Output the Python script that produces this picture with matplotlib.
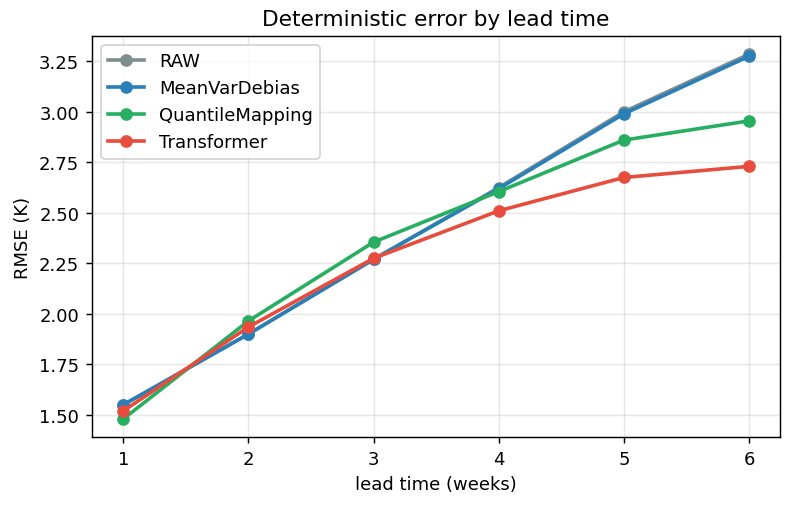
import matplotlib
matplotlib.use("Agg")
import matplotlib.pyplot as plt

lead_weeks = [1, 2, 3, 4, 5, 6]
rmse_raw = [1.55, 1.90, 2.27, 2.625, 3.00, 3.285]
rmse_meanvar = [1.55, 1.90, 2.27, 2.62, 2.99, 3.275]
rmse_qm = [1.48, 1.965, 2.355, 2.605, 2.86, 2.955]
rmse_transformer = [1.52, 1.935, 2.275, 2.51, 2.675, 2.73]

series = [
    ("RAW", rmse_raw, "#7f8c8d"),
    ("MeanVarDebias", rmse_meanvar, "#2980b9"),
    ("QuantileMapping", rmse_qm, "#27ae60"),
    ("Transformer", rmse_transformer, "#e74c3c"),
]


def main():
    fig, ax = plt.subplots(figsize=(6.1, 3.892), dpi=130)
    for name, vals, color in series:
        ax.plot(lead_weeks, vals, marker="o", color=color, linewidth=2,
                markersize=6, label=name)
    ax.set_xlabel("lead time (weeks)")
    ax.set_ylabel("RMSE (K)")
    ax.set_title("Deterministic error by lead time")
    ax.set_xticks(lead_weeks)
    ax.grid(alpha=0.3)
    ax.legend(loc="upper left")
    fig.subplots_adjust(left=0.116, right=0.984, top=0.927, bottom=0.134)
    fig.savefig("out.png")


if __name__ == "__main__":
    main()
